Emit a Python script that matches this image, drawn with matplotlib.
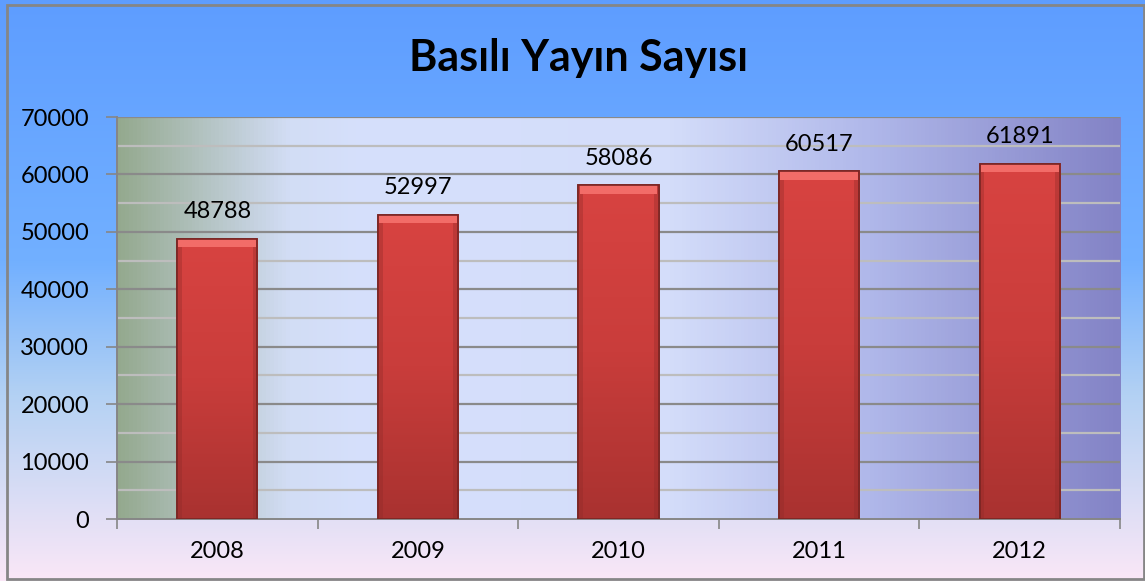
import numpy as np
import matplotlib.pyplot as plt
from matplotlib.colors import LinearSegmentedColormap
from matplotlib.patches import Rectangle

years = ["2008", "2009", "2010", "2011", "2012"]
counts = [48788, 52997, 58086, 60517, 61891]
y_ticks = [0, 10000, 20000, 30000, 40000, 50000, 60000, 70000]

plt.rcParams['font.family'] = ['Lato', 'DejaVu Sans']

fig = plt.figure(figsize=(11.45, 5.81), dpi=100)

# figure background: vertical gradient blue -> pink
bg = fig.add_axes([0, 0, 1, 1], zorder=-2)
bg_cmap = LinearSegmentedColormap.from_list(
    "bg", [(0.0, "#5e9dff"), (0.45, "#72b0ff"), (0.68, "#b3d1f3"), (1.0, "#fae7f7")])
bg.imshow(np.linspace(0, 1, 256).reshape(-1, 1), aspect="auto", cmap=bg_cmap,
          extent=[0, 1, 0, 1], origin="upper")
bg.set_xlim(0, 1); bg.set_ylim(0, 1)
bg.axis("off")
bg.add_patch(Rectangle((0.006, 0.004), 0.993, 0.988, fill=False, ec="#868686", lw=2,
                       transform=bg.transAxes))

ax = fig.add_axes([0.1022, 0.1067, 0.8760, 0.6919])
x = np.arange(len(years))

# plot area: horizontal gradient green -> pale lavender -> purple
pa_cmap = LinearSegmentedColormap.from_list(
    "pa", [(0.0, "#94a98e"), (0.17, "#d2ddf5"), (0.25, "#d6e0fc"), (0.55, "#d4ddfa"),
           (0.75, "#b0b8ea"), (1.0, "#8383c6")])
ax.imshow(np.linspace(0, 1, 256).reshape(1, -1), aspect="auto", cmap=pa_cmap,
          extent=[-0.5, len(years) - 0.5, 0, 70000], zorder=0)

# gridlines
for v in np.arange(5000, 70001, 5000):
    major = v % 10000 == 0
    ax.axhline(v, color="#8a8a8a" if major else "#bdbdbd", lw=1.6, zorder=1)

# bars: red with darker bottom, darker sides and light top bevel
w = 0.4
bar_cmap = LinearSegmentedColormap.from_list("bar", ["#a93230", "#c93d3b", "#d84341"])
bars = ax.bar(x, counts, width=w, color="#d2403e", edgecolor="#7a2523", lw=1.2, zorder=3)
for b in bars:
    x0, y0, bw, bh = b.get_x(), b.get_y(), b.get_width(), b.get_height()
    im = ax.imshow(np.linspace(0, 1, 128).reshape(-1, 1), aspect="auto", cmap=bar_cmap,
                   extent=[x0, x0 + bw, y0, y0 + bh], origin="lower", zorder=3.1)
    im.set_clip_path(b)
ax.bar(x - w / 2 + 0.012, counts, width=0.024, color="#8e2a28", alpha=0.35, lw=0, zorder=3.2)
ax.bar(x + w / 2 - 0.012, counts, width=0.024, color="#8e2a28", alpha=0.35, lw=0, zorder=3.2)
ax.bar(x, [1500] * len(x), bottom=[c - 1500 for c in counts], width=w * 0.97,
       color="#f26c68", lw=0, zorder=3.3)
ax.bar(x, counts, width=w, fill=False, edgecolor="#7a2523", lw=1.2, zorder=3.4)
for xi, c in zip(x, counts):
    ax.text(xi, c + 4700, f"{c}", ha="center", va="center", fontsize=17, zorder=5)

ax.set_xlim(-0.5, len(years) - 0.5)
ax.set_ylim(0, 70000)
ax.set_yticks(y_ticks)
ax.set_yticklabels([str(t) for t in y_ticks], fontsize=17)
ax.set_xticks(x)
ax.set_xticklabels(years, fontsize=17)
ax.set_xticks(np.arange(-0.5, len(years)), minor=True)
ax.tick_params(axis="x", which="major", length=0, pad=16)
ax.tick_params(axis="x", which="minor", length=7, color="#868686", width=1.2)
ax.tick_params(axis="y", length=8, color="#868686", width=1.2, pad=12)
for s in ["top", "right"]:
    ax.spines[s].set_visible(False)
ax.spines["left"].set_color("#868686")
ax.spines["bottom"].set_color("#868686")
ax.spines["left"].set_linewidth(1.4)
ax.spines["bottom"].set_linewidth(1.4)

fig.text(0.505, 0.9, "Basılı Yayın Sayısı", ha="center", va="center",
         fontsize=31, fontweight="bold")

fig.savefig("out.png", dpi=100)
